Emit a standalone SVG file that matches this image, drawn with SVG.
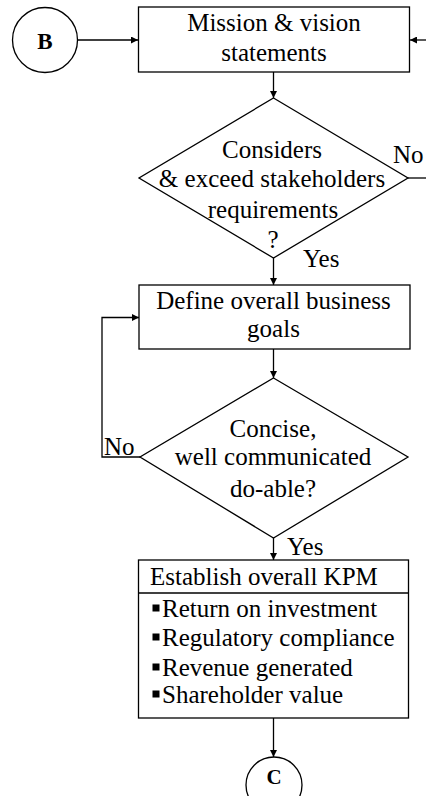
<svg xmlns="http://www.w3.org/2000/svg" width="426" height="796" viewBox="0 0 426 796">
<defs>
<style>
.s{fill:#fff;stroke:#000;stroke-width:1.3}
.t{font-family:"Liberation Serif","Times New Roman",serif;font-size:25px;fill:#000}
.c{text-anchor:middle}
.b{font-weight:bold;font-size:23px}
.l{fill:none;stroke:#000;stroke-width:1.3}
</style>
<marker id="a" viewBox="0 0 10 10" refX="10" refY="5" markerWidth="8" markerHeight="7" markerUnits="userSpaceOnUse" orient="auto">
<path d="M0,0L10,5L0,10z" fill="#000"/>
</marker>
</defs>
<rect width="426" height="796" fill="#fff"/>
<g id="connectors">
<line class="l" x1="77.5" y1="40" x2="138" y2="40" marker-end="url(#a)"/>
<line class="l" x1="426" y1="40" x2="410" y2="40" marker-end="url(#a)"/>
<line class="l" x1="273.5" y1="72" x2="273.5" y2="98" marker-end="url(#a)"/>
<line class="l" x1="408" y1="178" x2="426" y2="178"/>
<line class="l" x1="273.5" y1="258" x2="273.5" y2="285" marker-end="url(#a)"/>
<line class="l" x1="273.5" y1="349" x2="273.5" y2="378" marker-end="url(#a)"/>
<polyline class="l" points="140,457 102,457 102,317.5 139,317.5" marker-end="url(#a)"/>
<line class="l" x1="273.5" y1="538" x2="273.5" y2="560" marker-end="url(#a)"/>
<line class="l" x1="273.5" y1="718" x2="273.5" y2="757" marker-end="url(#a)"/>
<text class="t" x="393" y="163">No</text>
<text class="t" x="303" y="267">Yes</text>
<text class="t" x="104" y="455">No</text>
<text class="t" x="287" y="555">Yes</text>
</g>
<g id="nodeB">
<circle class="s" cx="45" cy="40" r="32.5"/>
<text class="t c b" x="45" y="49">B</text>
</g>
<g id="mission">
<rect class="s" x="138.5" y="7" width="271" height="65"/>
<text class="t c" x="274" y="31">Mission &amp; vision</text>
<text class="t c" x="274" y="61">statements</text>
</g>
<g id="decision1">
<polygon class="s" points="273.5,98 408,178 273.5,258 139,178"/>
<text class="t c" x="272" y="158">Considers</text>
<text class="t c" x="272" y="187">&amp; exceed stakeholders</text>
<text class="t c" x="273" y="218">requirements</text>
<text class="t c" x="273" y="248">?</text>
</g>
<g id="goals">
<rect class="s" x="139" y="285" width="271" height="64"/>
<text class="t c" x="273.5" y="309">Define overall business</text>
<text class="t c" x="273.5" y="337">goals</text>
</g>
<g id="decision2">
<polygon class="s" points="273.5,378 408,457 273.5,538 140,457"/>
<text class="t c" x="273" y="437">Concise,</text>
<text class="t c" x="273" y="465">well communicated</text>
<text class="t c" x="273" y="497">do-able?</text>
</g>
<g id="kpm">
<rect class="s" x="138.5" y="560" width="270" height="158"/>
<line class="l" x1="138.5" y1="593" x2="408.5" y2="593"/>
<text class="t" x="150" y="585">Establish overall KPM</text>
<rect x="152.5" y="604.5" width="7" height="7" fill="#000"/>
<text class="t" x="162" y="617">Return on investment</text>
<rect x="152.5" y="633.5" width="7" height="7" fill="#000"/>
<text class="t" x="162" y="646">Regulatory compliance</text>
<rect x="152.5" y="663.5" width="7" height="7" fill="#000"/>
<text class="t" x="162" y="676">Revenue generated</text>
<rect x="152.5" y="690.5" width="7" height="7" fill="#000"/>
<text class="t" x="162" y="703">Shareholder value</text>
</g>
<g id="nodeC">
<circle class="s" cx="274" cy="785" r="28"/>
<text class="t c b" x="274" y="784" style="font-size:21px">C</text>
</g>
</svg>
